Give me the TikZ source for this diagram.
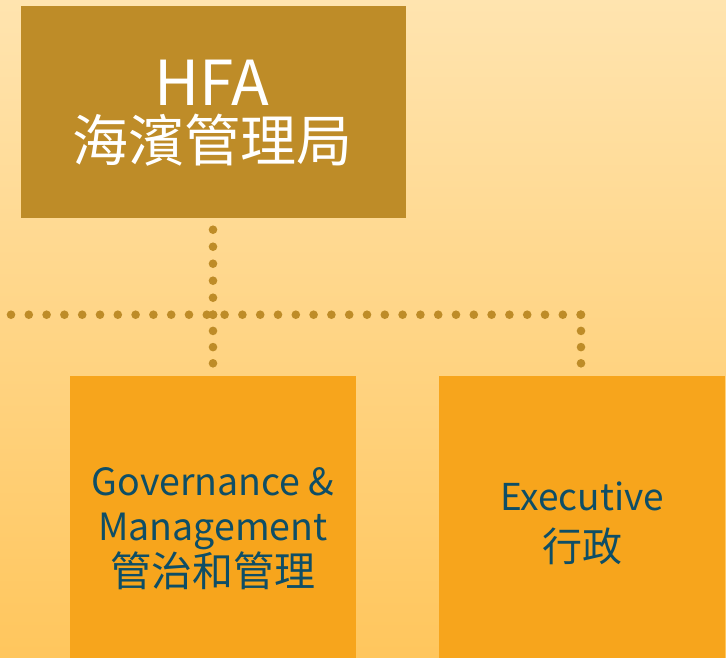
\documentclass[tikz,border=0pt]{standalone}
\usepackage{fontspec}
\newfontfamily\cjk{Noto Sans CJK TC}
\usetikzlibrary{calc}
\definecolor{bgtop}{HTML}{FFE4AF}
\definecolor{bgbot}{HTML}{FFC65D}
\definecolor{gold}{HTML}{BE8C28}
\definecolor{amber}{HTML}{F7A51C}
\definecolor{ink}{HTML}{0E4E66}
\tikzset{
  boxgold/.style={fill=gold, draw=none, inner sep=0pt, anchor=north west},
  boxamber/.style={fill=amber, draw=none, inner sep=0pt, anchor=north west},
  toptext/.style={text=white, inner sep=0pt, anchor=base, font=\cjk},
  subtext/.style={text=ink, inner sep=0pt, anchor=base, font=\cjk},
  dotline/.style={draw=gold, line width=8.6pt, line cap=round, dash pattern=on 0pt off #1},
  dotline/.default=17.8pt,
}
\begin{document}
\begin{tikzpicture}[x=1pt, y=-1pt]
  % page and background wash
  \useasboundingbox (0,0) rectangle (726,657);
  \shade[top color=bgtop, bottom color=bgbot] (0,0) rectangle (726,657);

  % connector layout points
  \coordinate (stemtop) at (213,229.7);
  \coordinate (junction) at (213,314.7);
  \coordinate (railleft) at (11,314.7);
  \coordinate (railright) at (581,314.7);

  % dotted connectors
  \draw[dotline=17.8pt] (railleft) -- (railright);
  \draw[dotline=17pt] (stemtop) -- (junction);

  % boxes
  \node[boxgold, minimum width=385pt, minimum height=212pt] (hfa) at (21,6) {};
  \node[boxamber, minimum width=286pt, minimum height=290pt] (gov) at (70,376) {};
  \node[boxamber, minimum width=286pt, minimum height=290pt] (exe) at (439,376) {};

  \draw[dotline=16.2pt] (junction) -- (junction |- gov.north);
  \draw[dotline=16.2pt] (railright) -- (railright |- exe.north);

  % titles
  \node[toptext, font=\cjk\fontsize{62}{62}\selectfont] (hfaen) at (212,105) {HFA};
  \node[toptext, font=\cjk\fontsize{56}{56}\selectfont] (hfazh) at (212,161) {海濱管理局};

  \node[subtext, font=\cjk\fontsize{37.5}{37.5}\selectfont] (gov1) at (213,495) {Governance \&};
  \node[subtext, font=\cjk\fontsize{37.5}{37.5}\selectfont] (gov2) at (213,540) {Management};
  \node[subtext, font=\cjk\fontsize{41}{41}\selectfont] (gov3) at (213,586) {管治和管理};

  \node[subtext, font=\cjk\fontsize{37}{37}\selectfont] (exe1) at (582,510) {Executive};
  \node[subtext, font=\cjk\fontsize{40}{40}\selectfont] (exe2) at (582,561) {行政};
\end{tikzpicture}
\end{document}
